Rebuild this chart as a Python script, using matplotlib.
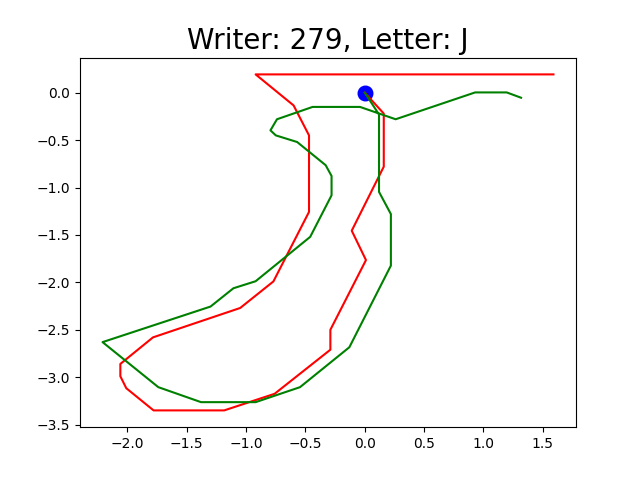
import numpy as np
from matplotlib import pyplot as plt

# 两条笔画（原始 / 生成），起点都在原点
red_x = [0.0, 0.16, 0.16, -0.11, 0.01, -0.29, -0.29, -0.76, -1.185, -1.78, -2.01, -2.06,
         -2.06, -1.785, -1.05, -0.77, -0.47, -0.47, -0.60, -0.92, 1.59]
red_y = [0.0, -0.22, -0.78, -1.455, -1.765, -2.50, -2.71, -3.175, -3.35, -3.35, -3.116, -2.99,
         -2.86, -2.58, -2.27, -1.99, -1.257, -0.45, -0.134, 0.193, 0.193]

green_x = [0.0, 0.12, 0.12, 0.22, 0.22, -0.13, -0.546, -0.92, -1.38, -1.74, -2.21, -1.30,
           -1.107, -0.92, -0.46, -0.28, -0.28, -0.33, -0.57, -0.75, -0.795, -0.74, -0.44,
           -0.04, 0.26, 0.93, 1.196, 1.317]
green_y = [0.0, -0.23, -1.046, -1.28, -1.823, -2.684, -3.105, -3.263, -3.263, -3.105, -2.63,
           -2.255, -2.062, -1.988, -1.52, -1.082, -0.878, -0.764, -0.52, -0.45, -0.397, -0.28,
           -0.15, -0.15, -0.28, 0.003, 0.003, -0.053]

start_x = [0.0]
start_y = [0.0]

writer = 279
letter = 'J'

plt.figure(figsize=(6.4, 4.8), dpi=100)
plt.scatter(start_x, start_y, c='blue', s=110)
plt.plot(red_x, red_y, c='red')
plt.plot(green_x, green_y, c='green')
plt.title('Writer: {}, Letter: {}'.format(writer, letter), fontsize=20)
plt.savefig('out.png')
